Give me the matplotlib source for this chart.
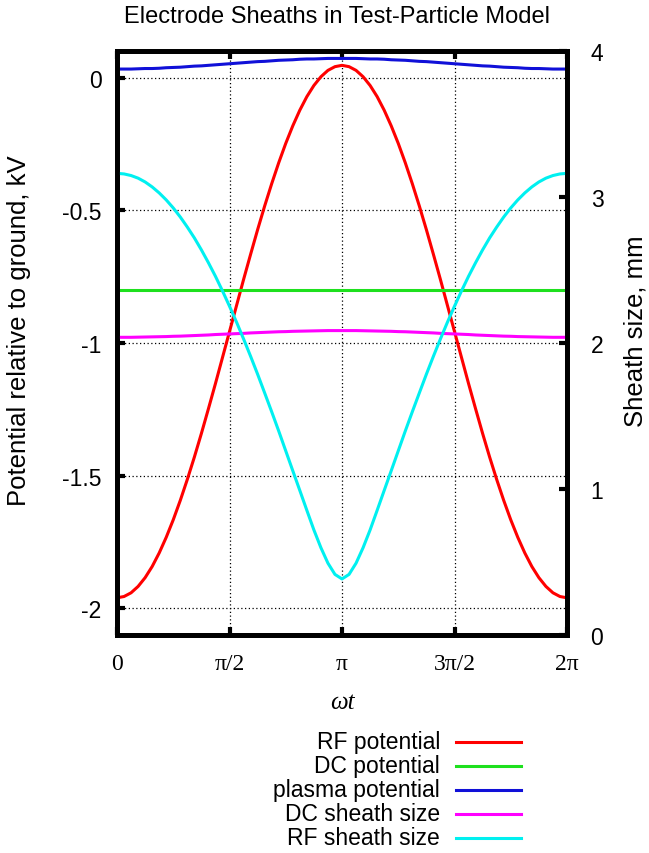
import numpy as np
import matplotlib
matplotlib.use('Agg')
from matplotlib import pyplot as plt
from matplotlib.lines import Line2D

# phase in steps of pi/32, 0 .. 2pi
phase_steps = list(range(65))

# curves are symmetric about pi: values read from 0 to pi, mirrored for pi .. 2pi
# potentials, kV (left axis)
rf_potential_half = [-1.960, -1.955, -1.941, -1.917, -1.884, -1.842, -1.791, -1.732,
                     -1.666, -1.593, -1.514, -1.430, -1.341, -1.248, -1.153, -1.055,
                     -0.957, -0.859, -0.761, -0.666, -0.573, -0.484, -0.400, -0.321,
                     -0.248, -0.182, -0.123, -0.072, -0.030, 0.003, 0.027, 0.041, 0.046]
plasma_potential_half = [0.032, 0.032, 0.032, 0.033, 0.034, 0.034, 0.035, 0.037,
                         0.038, 0.039, 0.041, 0.043, 0.044, 0.046, 0.048, 0.050,
                         0.052, 0.054, 0.056, 0.058, 0.060, 0.061, 0.063, 0.065,
                         0.066, 0.067, 0.069, 0.070, 0.070, 0.071, 0.072, 0.072, 0.072]
dc_potential = [-0.80] * 65

# sheath sizes, mm (right axis)
dc_sheath_half = [2.039, 2.039, 2.039, 2.040, 2.041, 2.042, 2.043, 2.044,
                  2.046, 2.047, 2.049, 2.051, 2.053, 2.055, 2.058, 2.060,
                  2.062, 2.064, 2.066, 2.069, 2.071, 2.073, 2.075, 2.077,
                  2.078, 2.080, 2.081, 2.082, 2.083, 2.084, 2.085, 2.085, 2.085]
rf_sheath_half = [3.162, 3.158, 3.147, 3.129, 3.103, 3.069, 3.028, 2.980,
                  2.925, 2.863, 2.794, 2.720, 2.638, 2.550, 2.457, 2.357,
                  2.252, 2.143, 2.028, 1.909, 1.786, 1.658, 1.529, 1.397,
                  1.261, 1.125, 0.990, 0.854, 0.720, 0.598, 0.492, 0.415, 0.384]

x_ticks = [0, np.pi / 2, np.pi, 3 * np.pi / 2, 2 * np.pi]
x_ticklabels = ['0', '\u03c0/2', '\u03c0', '3\u03c0/2', '2\u03c0']
left_ticks = [0, -0.5, -1, -1.5, -2]
left_ticklabels = ['0', '-0.5', '-1', '-1.5', '-2']
right_ticks = [0, 1, 2, 3, 4]

labels = ['RF potential', 'DC potential', 'plasma potential', 'DC sheath size', 'RF sheath size']
colors = ['#ff0000', '#1ee01e', '#1010d8', '#ff00ff', '#00f0f0']


def mirror(half):
    return half + half[-2::-1]


rf_potential = mirror(rf_potential_half)
plasma_potential = mirror(plasma_potential_half)
dc_sheath = mirror(dc_sheath_half)
rf_sheath = mirror(rf_sheath_half)

plt.rcParams['font.family'] = ['Liberation Sans', 'DejaVu Sans']
serif = ['Liberation Serif', 'DejaVu Serif']

phase = np.array(phase_steps) * np.pi / 32

fig = plt.figure(figsize=(6.49, 8.54), dpi=100)
ax = fig.add_axes([117 / 649, 1 - 636 / 854, 450 / 649, 584 / 854])
ax2 = ax.twinx()

lw = 2.2
ax.plot(phase, rf_potential, color=colors[0], lw=lw)
ax.plot(phase, dc_potential, color=colors[1], lw=lw)
ax.plot(phase, plasma_potential, color=colors[2], lw=lw)
ax2.plot(phase, dc_sheath, color=colors[3], lw=lw)
ax2.plot(phase, rf_sheath, color=colors[4], lw=lw)

ax.set_xlim(0, 2 * np.pi)
ax.set_ylim(-2.1, 0.1)
ax2.set_ylim(0, 4)

ax.set_xticks(x_ticks)
ax.set_xticklabels(x_ticklabels, family=serif, fontsize=17)
ax.set_yticks(left_ticks)
ax.set_yticklabels(left_ticklabels, fontsize=16.5)
ax2.set_yticks(right_ticks)
ax2.set_yticklabels([str(t) for t in right_ticks], fontsize=16.5)

ax.grid(True, color='black', linestyle=(0, (1, 2)), linewidth=0.9)
ax.tick_params(axis='both', direction='in', length=6, width=3, top=True, right=False)
ax.tick_params(axis='x', pad=13)
ax.tick_params(axis='y', pad=11)
ax2.tick_params(axis='y', direction='in', length=6, width=3, pad=17)

for a in (ax, ax2):
    for s in a.spines.values():
        s.set_linewidth(3.5)

fig.suptitle('Electrode Sheaths in Test-Particle Model', x=0.52, y=1 - 17 / 854,
             va='center', fontsize=17)
ax.set_xlabel('\u03c9t', family=serif, style='italic', fontsize=18, labelpad=12)
fig.text(19 / 649, 1 - 331 / 854, 'Potential relative to ground, kV', rotation=90,
         ha='center', va='center', fontsize=18.5)
fig.text(636 / 649, 1 - 331 / 854, 'Sheath size, mm', rotation=90,
         ha='center', va='center', fontsize=18.5)

# legend below the plot
for i, (lab, col) in enumerate(zip(labels, colors)):
    yy = 1 - (743 + 24 * i) / 854
    fig.text(440 / 649, yy, lab, ha='right', va='center', fontsize=16.5)
    fig.add_artist(Line2D([456 / 649, 521 / 649], [yy, yy], color=col, lw=2.2,
                          transform=fig.transFigure))

fig.savefig('out.png', dpi=100)
